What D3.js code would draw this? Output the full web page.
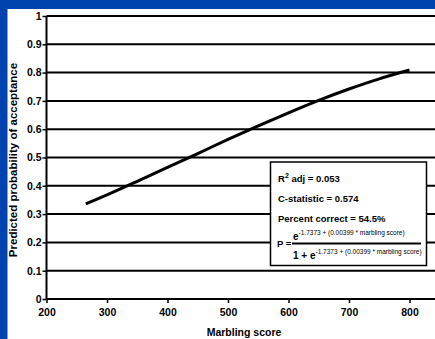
<!DOCTYPE html>
<html>
<head>
<meta charset="utf-8">
<script src="https://cdn.jsdelivr.net/npm/d3@7"></script>
<style>
  html, body { margin: 0; padding: 0; background: #0042ae; }
  svg { display: block; }
  text { font-family: "Liberation Sans", Arial, sans-serif; font-weight: bold; }
</style>
</head>
<body>
<div id="app"></div>
<script>
// values
const marbling = [265, 300, 350, 400, 450, 500, 550, 600, 650, 700, 750, 800];
const probability = [0.336, 0.368, 0.416, 0.465, 0.514, 0.564, 0.612, 0.658, 0.702, 0.742, 0.778, 0.809];
const xTicks = [200, 300, 400, 500, 600, 700, 800];
const yTicks = [0, 0.1, 0.2, 0.3, 0.4, 0.5, 0.6, 0.7, 0.8, 0.9, 1];
const statLines = ["adj = 0.053", "C-statistic = 0.574", "Percent correct = 54.5%"];
const exponent = "-1.7373 + (0.00399 * marbling score)";

var w = 435, h = 339;
const svg = d3.select("#app").append("svg")
  .attr("width", w)
  .attr("height", h);

svg.append("rect")
  .attr("x", 7.5).attr("y", 9)
  .attr("width", w - 7.5).attr("height", h - 9)
  .attr("fill", "#fff");

const xScale = d3.scaleLinear().domain([200, 900]).range([46.5, 470]);
const yScale = d3.scaleLinear().domain([0, 1]).range([299, 16]);

// gridlines
svg.selectAll(".grid")
  .data(yTicks.filter(d => d > 0))
  .enter().append("line")
  .attr("class", "grid")
  .attr("x1", xScale(200)).attr("x2", w)
  .attr("y1", d => yScale(d)).attr("y2", d => yScale(d))
  .attr("stroke", "#000").attr("stroke-width", 2);

const yAxis = d3.axisLeft(yScale)
  .tickValues(yTicks)
  .tickFormat(d => d === 0 || d === 1 ? d3.format("d")(d) : d3.format(".1f")(d))
  .tickSize(4).tickPadding(1);
const gy = svg.append("g")
  .attr("transform", "translate(" + xScale(200) + ",0)")
  .call(yAxis);
gy.select(".domain").attr("stroke", "#000").attr("stroke-width", 2).attr("d", "M0," + yScale(1) + "V" + yScale(0));
gy.selectAll(".tick line").attr("stroke-width", 1.5);
gy.selectAll("text").attr("font-size", 10.5).attr("fill", "#000");

const xAxis = d3.axisBottom(xScale)
  .tickValues(xTicks)
  .tickFormat(d3.format("d"))
  .tickSize(4).tickPadding(6);
const gx = svg.append("g")
  .attr("transform", "translate(0," + yScale(0) + ")")
  .call(xAxis);
gx.select(".domain").attr("stroke", "#000").attr("stroke-width", 2).attr("d", "M" + xScale(200) + ",0H" + w);
gx.selectAll(".tick line").attr("stroke-width", 1.5);
gx.selectAll("text").attr("font-size", 10.5).attr("fill", "#000");

// curve
const line = d3.line()
  .x((d, i) => xScale(marbling[i]))
  .y(d => yScale(d))
  .curve(d3.curveMonotoneX);
svg.append("path")
  .datum(probability)
  .attr("d", line)
  .attr("fill", "none")
  .attr("stroke", "#000")
  .attr("stroke-width", 3);

// axis titles
svg.append("text")
  .attr("x", 244).attr("y", 336)
  .attr("text-anchor", "middle")
  .attr("font-size", 10.5)
  .text("Marbling score");

svg.append("text")
  .attr("transform", "translate(17," + 160 + ") rotate(-90)")
  .attr("text-anchor", "middle")
  .attr("font-size", 11.5)
  .text("Predicted probability of acceptance");

// stats box
const box = svg.append("g");
box.append("rect")
  .attr("x", 270.5).attr("y", 162)
  .attr("width", 156).attr("height", 103.5)
  .attr("fill", "#fff").attr("stroke", "#000").attr("stroke-width", 1.5);

const r2 = box.append("text").attr("x", 278).attr("y", 182).attr("font-size", 9.5);
r2.append("tspan").text("R");
r2.append("tspan").attr("font-size", 7).attr("dy", -4).text("2");
r2.append("tspan").attr("dy", 4).text(" " + statLines[0]);

box.selectAll(".stat")
  .data(statLines.slice(1))
  .enter().append("text")
  .attr("class", "stat")
  .attr("x", 278).attr("y", (d, i) => 202 + i * 20)
  .attr("font-size", 9.5)
  .text(d => d);

box.append("text").attr("x", 277).attr("y", 247).attr("font-size", 9.5).text("P =");

const num = box.append("text").attr("x", 293).attr("y", 240).attr("font-size", 10);
num.append("tspan").text("e");
num.append("tspan").attr("font-size", 6.5).attr("font-weight", "normal").attr("dy", -5).text(exponent);

box.append("line")
  .attr("x1", 292).attr("x2", 421)
  .attr("y1", 243.5).attr("y2", 243.5)
  .attr("stroke", "#000").attr("stroke-width", 2);

const den = box.append("text").attr("x", 293).attr("y", 259).attr("font-size", 10);
den.append("tspan").text("1 + e");
den.append("tspan").attr("font-size", 6.5).attr("font-weight", "normal").attr("dy", -5).text(exponent);
</script>
</body>
</html>
